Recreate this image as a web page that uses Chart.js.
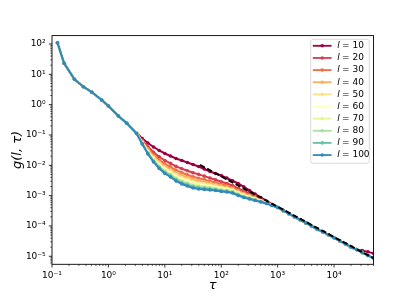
<!DOCTYPE html>
<html>
<head>
<meta charset="utf-8">
<script src="https://cdn.jsdelivr.net/npm/chart.js@4/dist/chart.umd.min.js"></script>
<style>
  html, body { margin: 0; padding: 0; background: #fff; }
  canvas { display: block; }
</style>
</head>
<body>
<canvas id="gChart" width="415" height="297"></canvas>
<script>
// lag values of the curves (shared by all series)
const tau = [0.125, 0.164, 0.25, 0.36, 0.51, 0.76, 1.0, 1.5, 2.12,
  3.16, 3.98, 5.01, 6.31, 7.94, 10, 12.6, 15.8, 20, 25.1, 31.6, 39.8, 50.1, 63.1, 79.4,
  100, 126, 158, 200, 251, 316, 398, 501, 631, 794, 1000,
  1259, 1585, 1995, 2512, 3162, 3981, 5012, 6310, 7943, 10000, 12589, 15849, 19953,
  25119, 31623, 39811, 50000];

// short times: every l lies on the same curve
const gHead = [110, 23.1, 6.86, 3.91, 2.56, 1.43, 0.90, 0.42, 0.243];

// the fan, tau = 3.16 ... 1000
const g10 = [0.116, 0.0766, 0.0545, 0.0402, 0.0308, 0.0245, 0.0203, 0.0168, 0.0144, 0.0124, 0.0106, 0.00914, 0.00757, 0.00625, 0.00537, 0.00462, 0.0038, 0.00309, 0.00251, 0.00195, 0.00148, 0.00113, 0.000869, 0.000667, 0.000511, 0.00041];
const g20 = [0.115, 0.0662, 0.0406, 0.0270, 0.0191, 0.0144, 0.0116, 0.00923, 0.00771, 0.00662, 0.00570, 0.00502, 0.00439, 0.00382, 0.00334, 0.00287, 0.00251, 0.00216, 0.00174, 0.00142, 0.00118, 0.000953, 0.000771, 0.000624, 0.000497, 0.000406];
const g30 = [0.114, 0.0617, 0.0352, 0.0222, 0.0151, 0.0111, 0.00885, 0.00690, 0.00570, 0.00490, 0.00421, 0.00376, 0.00337, 0.00301, 0.00270, 0.00237, 0.00212, 0.00186, 0.00151, 0.00125, 0.00106, 0.000877, 0.000728, 0.000604, 0.000491, 0.000406];
const g40 = [0.114, 0.0589, 0.0321, 0.0196, 0.0130, 0.00942, 0.00743, 0.00573, 0.00468, 0.00402, 0.00346, 0.00312, 0.00284, 0.00258, 0.00235, 0.00209, 0.00190, 0.00169, 0.00138, 0.00115, 0.000986, 0.000830, 0.000701, 0.000592, 0.000486, 0.000406];
const g50 = [0.113, 0.0568, 0.0299, 0.0177, 0.0115, 0.00822, 0.00644, 0.00491, 0.00399, 0.00343, 0.00294, 0.00267, 0.00247, 0.00228, 0.00210, 0.00188, 0.00174, 0.00156, 0.00128, 0.00107, 0.000929, 0.000794, 0.000679, 0.000581, 0.000483, 0.000406];
const g60 = [0.113, 0.0551, 0.0281, 0.0163, 0.01047, 0.00740, 0.00575, 0.00436, 0.00352, 0.00303, 0.00260, 0.00237, 0.00221, 0.00206, 0.00192, 0.00174, 0.00162, 0.00147, 0.00121, 0.00102, 0.000889, 0.000767, 0.000664, 0.000573, 0.000481, 0.000406];
const g70 = [0.113, 0.0537, 0.0267, 0.0152, 0.00964, 0.00675, 0.00524, 0.00393, 0.00316, 0.00272, 0.00233, 0.00214, 0.00201, 0.00189, 0.00179, 0.00163, 0.00153, 0.00139, 0.00115, 0.000972, 0.000855, 0.000745, 0.000650, 0.000566, 0.000479, 0.000406];
const g80 = [0.112, 0.0526, 0.0256, 0.0144, 0.00900, 0.00625, 0.00483, 0.00361, 0.00289, 0.00248, 0.00213, 0.00196, 0.00187, 0.00177, 0.00167, 0.00153, 0.00146, 0.00133, 0.00110, 0.000938, 0.000828, 0.000726, 0.000640, 0.000561, 0.000476, 0.000406];
const g90 = [0.112, 0.0515, 0.0246, 0.0136, 0.00841, 0.00579, 0.00447, 0.00331, 0.00265, 0.00228, 0.00195, 0.00180, 0.00173, 0.00164, 0.00157, 0.00145, 0.00138, 0.00128, 0.00105, 0.000902, 0.000802, 0.000710, 0.000628, 0.000556, 0.000475, 0.000406];
const g100 = [0.112, 0.0505, 0.0236, 0.01285, 0.00785, 0.00537, 0.00412, 0.00304, 0.00242, 0.00208, 0.00179, 0.00166, 0.00160, 0.00153, 0.00148, 0.00137, 0.00132, 0.00122, 0.00101, 0.000869, 0.000776, 0.000692, 0.000618, 0.000551, 0.000473, 0.000406];

// long times: the curves merge again (l = 10 wanders a bit at the end)
const gTail = [3.2e-4, 2.53e-4, 2.0e-4, 1.6e-4, 1.26e-4, 1.0e-4, 7.9e-5, 6.4e-5, 5.1e-5, 4.07e-5, 3.24e-5, 2.57e-5, 2.04e-5, 1.66e-5, 1.32e-5, 1.07e-5, 8.7e-6];
const gTail10 = [3.25e-4, 2.5e-4, 1.95e-4, 1.55e-4, 1.25e-4, 9.6e-5, 7.6e-5, 6.3e-5, 5.1e-5, 4.1e-5, 3.2e-5, 2.5e-5, 1.95e-5, 1.65e-5, 1.55e-5, 1.4e-5, 1.25e-5];

// 1/tau guide line
const guideTau = [42, 50000];
const guideG = [0.0103, 8.64e-6];

const lValues = [10, 20, 30, 40, 50, 60, 70, 80, 90, 100];
const fanByL = [g10, g20, g30, g40, g50, g60, g70, g80, g90, g100];
const lColors = ['#9e0142', '#d53e4f', '#f46d43', '#fdae61', '#fee08b',
                 '#ffffbf', '#e6f598', '#abdda4', '#66c2a5', '#3288bd'];

const xTickValues = [0.1, 1, 10, 100, 1000, 10000];
const xTickLabels = ['10\u207B\u00B9', '10\u2070', '10\u00B9', '10\u00B2', '10\u00B3', '10\u2074'];
const yTickValues = [1e-5, 1e-4, 1e-3, 1e-2, 1e-1, 1, 10, 100];
const yTickLabels = ['10\u207B\u2075', '10\u207B\u2074', '10\u207B\u00B3', '10\u207B\u00B2', '10\u207B\u00B9', '10\u2070', '10\u00B9', '10\u00B2'];

const X_MIN = 0.1, X_MAX = 50000;
const Y_MIN = 5.44e-6, Y_MAX = 189;

// minor tick positions (2..9 in each decade) inside the axis range
function minorTicks(lo, hi) {
  const out = [];
  for (let e = Math.floor(Math.log10(lo)); e <= Math.ceil(Math.log10(hi)); e++) {
    for (let m = 2; m <= 9; m++) {
      const v = m * Math.pow(10, e);
      if (v >= lo && v <= hi) out.push(v);
    }
  }
  return out;
}

// spines, tick marks and the legend box, drawn like matplotlib does
const axesDecor = {
  id: 'axesDecor',
  afterDraw(chart) {
    const { ctx, chartArea: a, scales } = chart;
    ctx.save();
    ctx.strokeStyle = '#000';

    // tick marks pointing outwards
    const drawTicks = (scale, values, len, width) => {
      ctx.lineWidth = width;
      ctx.beginPath();
      values.forEach(v => {
        const p = scale.getPixelForValue(v);
        if (scale.isHorizontal()) {
          ctx.moveTo(p, a.bottom); ctx.lineTo(p, a.bottom + len);
        } else {
          ctx.moveTo(a.left, p); ctx.lineTo(a.left - len, p);
        }
      });
      ctx.stroke();
    };
    drawTicks(scales.x, xTickValues, 3.2, 0.8);
    drawTicks(scales.x, minorTicks(X_MIN, X_MAX), 1.8, 0.6);
    drawTicks(scales.y, yTickValues, 3.2, 0.8);
    drawTicks(scales.y, minorTicks(Y_MIN, Y_MAX), 1.8, 0.6);

    // frame
    ctx.lineWidth = 0.9;
    ctx.strokeRect(a.left, a.top, a.right - a.left, a.bottom - a.top);

    // legend in the upper right corner
    const box = { x: 310.7, y: 39.3, w: 58.6, h: 124 };
    ctx.globalAlpha = 0.8;
    ctx.fillStyle = '#fff';
    ctx.strokeStyle = '#cccccc';
    ctx.lineWidth = 0.9;
    ctx.beginPath();
    ctx.roundRect(box.x, box.y, box.w, box.h, 2.5);
    ctx.fill();
    ctx.stroke();
    ctx.globalAlpha = 1;

    ctx.textBaseline = 'middle';
    lValues.forEach((l, i) => {
      const y = 45.8 + i * 12.14;
      ctx.strokeStyle = lColors[i];
      ctx.lineWidth = 1.8;
      ctx.beginPath();
      ctx.moveTo(312.8, y); ctx.lineTo(331.6, y);
      ctx.stroke();
      ctx.fillStyle = lColors[i];
      ctx.beginPath();
      ctx.arc(322.2, y, 1.8, 0, Math.PI * 2);
      ctx.fill();

      ctx.fillStyle = '#000';
      ctx.font = 'italic 9px "DejaVu Sans"';
      ctx.fillText('l', 337.3, y);
      const lw = ctx.measureText('l').width;
      ctx.font = '9px "DejaVu Sans"';
      ctx.fillText('= ' + l, 337.3 + lw + 2.2, y);
    });
    ctx.restore();
  }
};

function buildDatasets() {
  const sets = lValues.map((l, i) => {
    const g = gHead.concat(fanByL[i], i === 0 ? gTail10 : gTail);
    return {
      label: 'l = ' + l,
      data: tau.map((t, k) => ({ x: t, y: g[k] })),
      borderColor: lColors[i],
      backgroundColor: lColors[i],
      borderWidth: 2,
      pointRadius: 1.8,
      pointBorderWidth: 0,
      pointBackgroundColor: lColors[i],
      order: lValues.length - i // later l drawn on top, as in the original
    };
  });
  sets.push({
    label: 'guide',
    data: guideTau.map((t, k) => ({ x: t, y: guideG[k] })),
    borderColor: '#000',
    borderWidth: 2,
    borderDash: [5.5, 2.6],
    pointRadius: 0,
    order: 0
  });
  return sets;
}

function drawChart() {
  const ctx = document.getElementById('gChart').getContext('2d');
  new Chart(ctx, {
    type: 'line',
    data: { datasets: buildDatasets() },
    options: {
      responsive: false,
      animation: false,
      devicePixelRatio: 1,
      layout: { padding: { left: 0, right: 41.5, top: 35.6, bottom: 0 } },
      plugins: { legend: { display: false }, tooltip: { enabled: false } },
      scales: {
        x: {
          type: 'logarithmic',
          min: X_MIN,
          max: X_MAX,
          grid: { display: false, drawTicks: false },
          border: { display: false },
          afterBuildTicks: s => { s.ticks = xTickValues.map(v => ({ value: v })); },
          afterFit: s => { s.height = 32.7; },
          ticks: {
            autoSkip: false,
            maxRotation: 0,
            padding: 6.0,
            color: '#000',
            font: { family: 'DejaVu Sans', size: 9 },
            callback: (v, i) => xTickLabels[i]
          },
          title: {
            display: true,
            text: '\u03C4',
            color: '#000',
            font: { family: 'DejaVu Sans', size: 13, style: 'italic' },
            padding: { top: 0, bottom: 3.5 }
          }
        },
        y: {
          type: 'logarithmic',
          min: Y_MIN,
          max: Y_MAX,
          grid: { display: false, drawTicks: false },
          border: { display: false },
          afterBuildTicks: s => { s.ticks = yTickValues.map(v => ({ value: v })); },
          afterFit: s => { s.width = 52; },
          ticks: {
            autoSkip: false,
            padding: 6.3,
            color: '#000',
            font: { family: 'DejaVu Sans', size: 9 },
            callback: (v, i) => yTickLabels[i]
          },
          title: {
            display: true,
            text: 'g(l, \u03C4)',
            color: '#000',
            font: { family: 'DejaVu Sans', size: 13, style: 'italic' },
            padding: { top: 10, bottom: 0 }
          }
        }
      }
    },
    plugins: [axesDecor]
  });
}

window.addEventListener('DOMContentLoaded', drawChart);
</script>
</body>
</html>
